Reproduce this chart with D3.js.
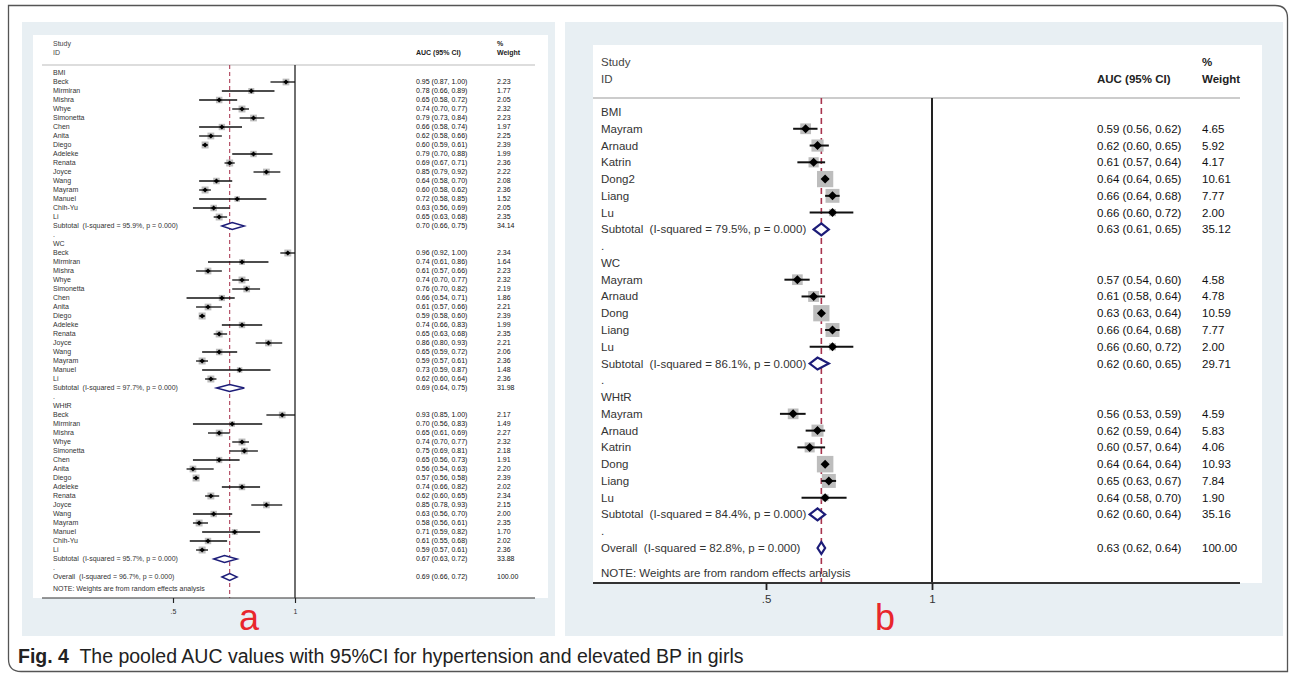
<!DOCTYPE html>
<html>
<head>
<meta charset="utf-8">
<script src="https://cdn.jsdelivr.net/npm/d3@7"></script>
<style>
  body { margin: 0; background: #fff; }
  svg text { font-family: "Liberation Sans", Arial, sans-serif; white-space: pre; }
</style>
</head>
<body>
<svg id="fig" width="1290" height="676"></svg>
<script>
// ---- panel a data : [study, auc, lower, upper, weight]
var aBMI = [
  ["Beck", 0.95, 0.87, 1.00, 2.23], ["Mirmiran", 0.78, 0.66, 0.89, 1.77],
  ["Mishra", 0.65, 0.58, 0.72, 2.05], ["Whye", 0.74, 0.70, 0.77, 2.32],
  ["Simonetta", 0.79, 0.73, 0.84, 2.23], ["Chen", 0.66, 0.58, 0.74, 1.97],
  ["Anita", 0.62, 0.58, 0.66, 2.25], ["Diego", 0.60, 0.59, 0.61, 2.39],
  ["Adeleke", 0.79, 0.70, 0.88, 1.99], ["Renata", 0.69, 0.67, 0.71, 2.36],
  ["Joyce", 0.85, 0.79, 0.92, 2.22], ["Wang", 0.64, 0.58, 0.70, 2.08],
  ["Mayram", 0.60, 0.58, 0.62, 2.36], ["Manuel", 0.72, 0.58, 0.85, 1.52],
  ["Chih-Yu", 0.63, 0.56, 0.69, 2.05], ["Li", 0.65, 0.63, 0.68, 2.35]
];
var aWC = [
  ["Beck", 0.96, 0.92, 1.00, 2.34], ["Mirmiran", 0.74, 0.61, 0.86, 1.64],
  ["Mishra", 0.61, 0.57, 0.66, 2.23], ["Whye", 0.74, 0.70, 0.77, 2.32],
  ["Simonetta", 0.76, 0.70, 0.82, 2.19], ["Chen", 0.66, 0.54, 0.71, 1.86],
  ["Anita", 0.61, 0.57, 0.66, 2.21], ["Diego", 0.59, 0.58, 0.60, 2.39],
  ["Adeleke", 0.74, 0.66, 0.83, 1.99], ["Renata", 0.65, 0.63, 0.68, 2.35],
  ["Joyce", 0.86, 0.80, 0.93, 2.21], ["Wang", 0.65, 0.59, 0.72, 2.06],
  ["Mayram", 0.59, 0.57, 0.61, 2.36], ["Manuel", 0.73, 0.59, 0.87, 1.48],
  ["Li", 0.62, 0.60, 0.64, 2.36]
];
var aWHtR = [
  ["Beck", 0.93, 0.85, 1.00, 2.17], ["Mirmiran", 0.70, 0.56, 0.83, 1.49],
  ["Mishra", 0.65, 0.61, 0.69, 2.27], ["Whye", 0.74, 0.70, 0.77, 2.32],
  ["Simonetta", 0.75, 0.69, 0.81, 2.18], ["Chen", 0.65, 0.56, 0.73, 1.91],
  ["Anita", 0.56, 0.54, 0.63, 2.20], ["Diego", 0.57, 0.56, 0.58, 2.39],
  ["Adeleke", 0.74, 0.66, 0.82, 2.02], ["Renata", 0.62, 0.60, 0.65, 2.34],
  ["Joyce", 0.85, 0.78, 0.93, 2.15], ["Wang", 0.63, 0.56, 0.70, 2.00],
  ["Mayram", 0.58, 0.56, 0.61, 2.35], ["Manuel", 0.71, 0.59, 0.82, 1.70],
  ["Chih-Yu", 0.61, 0.55, 0.68, 2.02], ["Li", 0.59, 0.57, 0.61, 2.36]
];
// subtotals : [auc, lower, upper, weight, I-squared]
var aSub = [[0.70, 0.66, 0.75, 34.14, "95.9%"], [0.69, 0.64, 0.75, 31.98, "97.7%"], [0.67, 0.63, 0.72, 33.88, "95.7%"]];
var aOverall = [0.69, 0.66, 0.72, 100.00, "96.7%"];

// ---- panel b data
var bBMI = [
  ["Mayram", 0.59, 0.56, 0.62, 4.65], ["Arnaud", 0.62, 0.60, 0.65, 5.92],
  ["Katrin", 0.61, 0.57, 0.64, 4.17], ["Dong2", 0.64, 0.64, 0.65, 10.61],
  ["Liang", 0.66, 0.64, 0.68, 7.77], ["Lu", 0.66, 0.60, 0.72, 2.00]
];
var bWC = [
  ["Mayram", 0.57, 0.54, 0.60, 4.58], ["Arnaud", 0.61, 0.58, 0.64, 4.78],
  ["Dong", 0.63, 0.63, 0.64, 10.59], ["Liang", 0.66, 0.64, 0.68, 7.77],
  ["Lu", 0.66, 0.60, 0.72, 2.00]
];
var bWHtR = [
  ["Mayram", 0.56, 0.53, 0.59, 4.59], ["Arnaud", 0.62, 0.59, 0.64, 5.83],
  ["Katrin", 0.60, 0.57, 0.64, 4.06], ["Dong", 0.64, 0.64, 0.64, 10.93],
  ["Liang", 0.65, 0.63, 0.67, 7.84], ["Lu", 0.64, 0.58, 0.70, 1.90]
];
var bSub = [[0.63, 0.61, 0.65, 35.12, "79.5%"], [0.62, 0.60, 0.65, 29.71, "86.1%"], [0.62, 0.60, 0.64, 35.16, "84.4%"]];
var bOverall = [0.63, 0.62, 0.64, 100.00, "82.8%"];

var groupNames = ["BMI", "WC", "WHtR"];
var tickVals = [0.5, 1];
var tickLabels = [".5", "1"];

var svg = d3.select("#fig");
var f2 = d3.format(".2f");

// outer frame (rounded top-right and bottom-left corners)
svg.append("path")
  .attr("d", "M8.5,5.5H1275Q1287.5,5.5 1287.5,18V671.5H21Q8.5,671.5 8.5,659Z")
  .attr("fill", "#fff").attr("stroke", "#555").attr("stroke-width", 1.3);

function buildRows(groups, subs, overall) {
  var rows = [];
  groups.forEach(function(g, i) {
    rows.push({type: "head", label: groupNames[i]});
    g.forEach(function(d) {
      rows.push({type: "study", label: d[0], est: d[1], lo: d[2], hi: d[3], w: d[4]});
    });
    var s = subs[i];
    rows.push({type: "sub", label: "Subtotal  (I-squared = " + s[4] + ", p = 0.000)",
               est: s[0], lo: s[1], hi: s[2], w: s[3]});
    rows.push({type: "dot", label: "."});
  });
  rows.push({type: "sub", label: "Overall  (I-squared = " + overall[4] + ", p = 0.000)",
             est: overall[0], lo: overall[1], hi: overall[2], w: overall[3]});
  return rows;
}

function drawForest(c, rows, overallEst) {
  var g = svg.append("g");

  // graph region + plot region
  g.append("rect").attr("x", c.bg[0]).attr("y", c.bg[1]).attr("width", c.bg[2]).attr("height", c.bg[3])
    .attr("fill", "#e8eff3");
  g.append("rect").attr("x", c.plot[0]).attr("y", c.plot[1]).attr("width", c.plot[2]).attr("height", c.axisY - c.plot[1])
    .attr("fill", "#fff");

  var x = d3.scaleLog().domain([0.5, 1]).range(c.xr);
  var y = d3.scaleLinear().domain([0, rows.length - 1]).range(c.rowY);
  var maxW = d3.max(rows.filter(function(r) { return r.type == "study"; }), function(r) { return r.w; });
  var box = d3.scaleSqrt().domain([0, maxW]).range([0, c.boxMax]);

  // header
  var txt = function(xx, yy, s) {
    return g.append("text").attr("x", xx).attr("y", yy).attr("dy", "0.35em")
      .attr("font-size", c.fs).attr("fill", "#222").text(s);
  };
  txt(c.labX, c.headY[0], "Study").attr("fill", "#444");
  txt(c.labX, c.headY[1], "ID").attr("fill", "#444");
  txt(c.valX, c.headY[1], "AUC (95% CI)").attr("font-weight", "bold");
  txt(c.wX, c.headY[0], "%").attr("font-weight", "bold");
  txt(c.wX, c.headY[1], "Weight").attr("font-weight", "bold");

  g.append("line").attr("x1", c.lineX[0]).attr("x2", c.lineX[1])
    .attr("y1", c.headLine).attr("y2", c.headLine)
    .attr("stroke", "#bbb").attr("stroke-width", c.fs > 9 ? 1.6 : 1);

  // null line and overall line
  g.append("line").attr("x1", x(1)).attr("x2", x(1))
    .attr("y1", c.headLine).attr("y2", c.axisY)
    .attr("stroke", "#222").attr("stroke-width", c.ciW);
  g.append("line").attr("x1", x(overallEst)).attr("x2", x(overallEst))
    .attr("y1", c.headLine).attr("y2", c.axisY)
    .attr("stroke", "#a8344e").attr("stroke-width", c.ciW * 0.8)
    .attr("stroke-dasharray", c.dash);

  // row labels and numbers
  rows.forEach(function(r, i) {
    txt(c.labX, y(i), r.label).attr("fill", "#333");
    if (r.type == "study" || r.type == "sub") {
      txt(c.valX, y(i), f2(r.est) + " (" + f2(r.lo) + ", " + f2(r.hi) + ")").attr("fill", "#111");
      txt(c.wX, y(i), f2(r.w)).attr("fill", "#111");
    }
  });

  var studies = rows.map(function(r, i) { r.i = i; return r; });

  // weight boxes
  g.selectAll(".box").data(studies.filter(function(r) { return r.type == "study"; }))
    .enter().append("rect").attr("class", "box")
    .attr("x", function(d) { return x(d.est) - box(d.w) / 2; })
    .attr("y", function(d) { return y(d.i) - box(d.w) / 2; })
    .attr("width", function(d) { return box(d.w); })
    .attr("height", function(d) { return box(d.w); })
    .attr("fill", "#bdbdbd");

  // confidence intervals
  g.selectAll(".ci").data(studies.filter(function(r) { return r.type == "study"; }))
    .enter().append("line").attr("class", "ci")
    .attr("x1", function(d) { return x(d.lo); })
    .attr("x2", function(d) { return x(d.hi); })
    .attr("y1", function(d) { return y(d.i); })
    .attr("y2", function(d) { return y(d.i); })
    .attr("stroke", "#111").attr("stroke-width", c.ciW);

  // point estimates
  g.selectAll(".pt").data(studies.filter(function(r) { return r.type == "study"; }))
    .enter().append("path").attr("class", "pt")
    .attr("d", function(d) {
      var cx = x(d.est), cy = y(d.i), s = c.pt;
      return "M" + (cx - s) + "," + cy + "L" + cx + "," + (cy - s) + "L" + (cx + s) + "," + cy + "L" + cx + "," + (cy + s) + "Z";
    })
    .attr("fill", "#000");

  // pooled diamonds
  g.selectAll(".dm").data(studies.filter(function(r) { return r.type == "sub"; }))
    .enter().append("path").attr("class", "dm")
    .attr("d", function(d) {
      var cy = y(d.i), h = c.dmH / 2;
      return "M" + x(d.lo) + "," + cy + "L" + x(d.est) + "," + (cy - h) + "L" + x(d.hi) + "," + cy + "L" + x(d.est) + "," + (cy + h) + "Z";
    })
    .attr("fill", "#fff").attr("stroke", "#1c1c78").attr("stroke-width", c.dmStroke);

  // note
  txt(c.labX, c.noteY, "NOTE: Weights are from random effects analysis").attr("fill", "#333");

  // x axis
  g.append("line").attr("x1", c.lineX[0]).attr("x2", c.lineX[1])
    .attr("y1", c.axisY).attr("y2", c.axisY)
    .attr("stroke", "#333").attr("stroke-width", c.ciW * 0.9);
  var ax = g.append("g").attr("transform", "translate(0," + c.axisY + ")")
    .call(d3.axisBottom(x).tickValues(tickVals)
      .tickFormat(function(d, i) { return tickLabels[i]; })
      .tickSize(c.tickLen).tickPadding(c.tickPad));
  ax.select(".domain").remove();
  ax.selectAll("line").attr("stroke", "#222").attr("stroke-width", c.ciW * 0.9);
  ax.selectAll("text").attr("font-size", c.fs).attr("fill", "#333")
    .attr("font-family", "Liberation Sans, Arial, sans-serif");

  // panel letter
  g.append("text").attr("x", c.letter[0]).attr("y", c.letter[1])
    .attr("text-anchor", "middle").attr("font-size", 36)
    .attr("fill", "#e8262c").text(c.letter[2]);
}

drawForest({
  bg: [22, 22, 533, 614], plot: [33, 35, 515], axisY: 598,
  lineX: [42, 535], xr: [173, 295], rowY: [73, 577],
  headY: [44, 53], headLine: 65, noteY: 589,
  fs: 7, labX: 53, valX: 416, wX: 497,
  boxMax: 7, ciW: 1.3, pt: 2.6, dmH: 7, dmStroke: 1.4, dash: "4,3",
  tickLen: 5, tickPad: 6, letter: [249, 630, "a"]
}, buildRows([aBMI, aWC, aWHtR], aSub, aOverall), aOverall[0]);

drawForest({
  bg: [565, 22, 718, 614], plot: [593, 45, 669], axisY: 583,
  lineX: [593, 1240], xr: [766, 932], rowY: [112, 548],
  headY: [62, 79], headLine: 98, noteY: 573,
  fs: 11.5, labX: 601, valX: 1097, wX: 1202,
  boxMax: 16.5, ciW: 2, pt: 4.5, dmH: 12, dmStroke: 2.2, dash: "6,4",
  tickLen: 7, tickPad: 5, letter: [885, 630, "b"]
}, buildRows([bBMI, bWC, bWHtR], bSub, bOverall), bOverall[0]);

// caption
var cap = svg.append("text").attr("x", 18).attr("y", 663)
  .attr("font-size", 19.5).attr("fill", "#222");
cap.append("tspan").attr("font-weight", "bold").text("Fig. 4");
cap.append("tspan").text("  The pooled AUC values with 95%CI for hypertension and elevated BP in girls");
</script>
</body>
</html>
